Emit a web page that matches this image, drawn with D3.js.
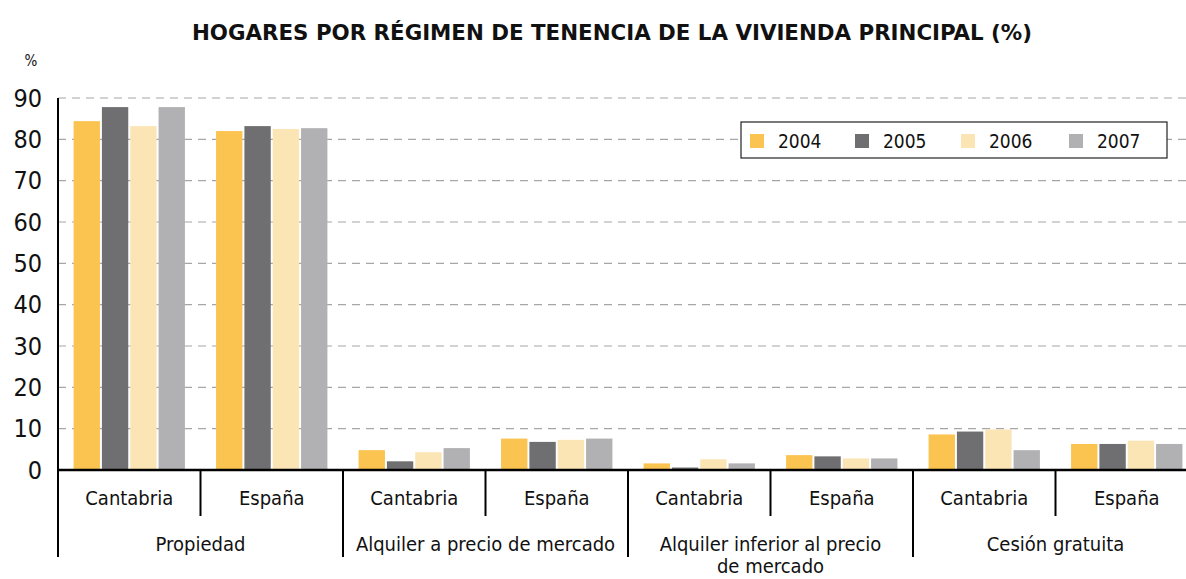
<!DOCTYPE html>
<html><head><meta charset="utf-8">
<script src="https://cdn.jsdelivr.net/npm/d3@7"></script>
<style>body{margin:0;background:#fff;} svg{display:block;} text{font-family:"DejaVu Sans Condensed","DejaVu Sans",sans-serif;}</style>
</head><body>
<svg id="c" width="1186" height="579"></svg>
<script>
const groups = ["Propiedad", "Alquiler a precio de mercado", "Alquiler inferior al precio de mercado", "Cesión gratuita"];
const regions = ["Cantabria", "España"];
const years = ["2004", "2005", "2006", "2007"];
// values per [group][region] for each year
const v2004 = [[84.4, 82.0], [4.8, 7.6], [1.6, 3.6], [8.6, 6.3]];
const v2005 = [[87.8, 83.2], [2.1, 6.8], [0.6, 3.3], [9.3, 6.3]];
const v2006 = [[83.2, 82.5], [4.3, 7.3], [2.6, 2.8], [9.8, 7.1]];
const v2007 = [[87.8, 82.7], [5.3, 7.6], [1.6, 2.8], [4.8, 6.3]];
const yTicks = [0, 10, 20, 30, 40, 50, 60, 70, 80, 90];
const colors = ["#FBC350", "#6F6F71", "#FCE5B5", "#B1B1B3"];

const series = [v2004, v2005, v2006, v2007];
const svg = d3.select("#c");
const x0 = 58, x1 = 1198, yTop = 98, yBase = 470;

const y = d3.scaleLinear().domain([0, 90]).range([yBase, yTop]);
const gx = d3.scaleBand().domain(groups).range([x0, x1]).padding(0);
const rx = d3.scaleBand().domain(regions).range([0, gx.bandwidth()]).padding(0);
const bx = d3.scaleBand().domain(years).range([0, rx.bandwidth()]).paddingInner(0.07).paddingOuter(0.55);

// title
svg.append("text").attr("x", 612).attr("y", 40).attr("text-anchor", "middle")
  .attr("font-weight", "bold").attr("font-size", 22).attr("fill", "#111")
  .attr("font-family", "DejaVu Sans Condensed")
  .attr("textLength", 840).attr("lengthAdjust", "spacingAndGlyphs")
  .text("HOGARES POR RÉGIMEN DE TENENCIA DE LA VIVIENDA PRINCIPAL (%)");
svg.append("text").attr("x", 31).attr("y", 66).attr("text-anchor", "middle")
  .attr("font-size", 15).attr("fill", "#111").text("%");

// gridlines
svg.append("g").selectAll("line").data(yTicks.filter(d => d > 0)).join("line")
  .attr("x1", x0).attr("x2", 1186).attr("y1", d => y(d)).attr("y2", d => y(d))
  .attr("stroke", "#a6a6a6").attr("stroke-width", 1.2).attr("stroke-dasharray", "8,6");

// y axis
const yAxis = d3.axisLeft(y).tickValues(yTicks).tickSize(0).tickPadding(16);
const ya = svg.append("g").attr("transform", `translate(${x0},0)`).call(yAxis);
ya.select(".domain").remove();
ya.selectAll("text").attr("font-size", 25).attr("fill", "#111")
  .attr("font-family", "DejaVu Sans Condensed, DejaVu Sans, sans-serif");
svg.append("line").attr("x1", x0).attr("x2", x0).attr("y1", yTop).attr("y2", yBase)
  .attr("stroke", "#000").attr("stroke-width", 2);

// bars
const data = [];
groups.forEach((g, gi) => regions.forEach((r, ri) => years.forEach((yr, yi) => {
  data.push({g, r, yr, yi, v: series[yi][gi][ri]});
})));
svg.append("g").selectAll("rect").data(data).join("rect")
  .attr("x", d => gx(d.g) + rx(d.r) + bx(d.yr))
  .attr("width", bx.bandwidth())
  .attr("y", d => y(d.v))
  .attr("height", d => yBase - y(d.v))
  .attr("fill", d => colors[d.yi]);

// x axis baseline
svg.append("line").attr("x1", x0 - 1).attr("x2", 1186).attr("y1", yBase).attr("y2", yBase)
  .attr("stroke", "#000").attr("stroke-width", 2.5);

// separators
const subSeps = [];
groups.forEach(g => subSeps.push(gx(g) + rx.bandwidth()));
svg.append("g").selectAll("line").data(subSeps).join("line")
  .attr("x1", d => d).attr("x2", d => d).attr("y1", yBase).attr("y2", 516)
  .attr("stroke", "#000").attr("stroke-width", 2);
const grpSeps = groups.map(g => gx(g)).concat([x1]);
svg.append("g").selectAll("line").data(grpSeps).join("line")
  .attr("x1", d => d).attr("x2", d => d).attr("y1", yBase).attr("y2", 557)
  .attr("stroke", "#000").attr("stroke-width", 2);

// region labels
const regLab = [];
groups.forEach(g => regions.forEach(r => regLab.push({g, r})));
svg.append("g").selectAll("text").data(regLab).join("text")
  .attr("x", d => gx(d.g) + rx(d.r) + rx.bandwidth() / 2)
  .attr("y", 505).attr("text-anchor", "middle").attr("font-size", 20).attr("fill", "#111")
  .text(d => d.r);

// group labels
const gl = svg.append("g").selectAll("text").data(groups).join("text")
  .attr("x", d => gx(d) + gx.bandwidth() / 2)
  .attr("y", 551).attr("text-anchor", "middle").attr("font-size", 20).attr("fill", "#111");
gl.each(function(d) {
  const t = d3.select(this);
  if (d === "Alquiler inferior al precio de mercado") {
    t.append("tspan").attr("x", gx(d) + gx.bandwidth() / 2).text("Alquiler inferior al precio");
    t.append("tspan").attr("x", gx(d) + gx.bandwidth() / 2).attr("dy", 22).text("de mercado");
  } else t.text(d);
});

// legend
const lg = svg.append("g");
lg.append("rect").attr("x", 741).attr("y", 122).attr("width", 426).attr("height", 36)
  .attr("fill", "#fff").attr("stroke", "#222").attr("stroke-width", 1.2);
const lx = d3.scaleOrdinal().domain(years).range([750, 855, 961, 1069]);
lg.selectAll("rect.sw").data(years).join("rect").attr("class", "sw")
  .attr("x", d => lx(d)).attr("y", 134).attr("width", 14).attr("height", 14)
  .attr("fill", (d, i) => colors[i]);
lg.selectAll("text").data(years).join("text")
  .attr("x", d => lx(d) + 28).attr("y", 148).attr("font-size", 19).attr("fill", "#111")
  .text(d => d);
</script>
</body></html>
